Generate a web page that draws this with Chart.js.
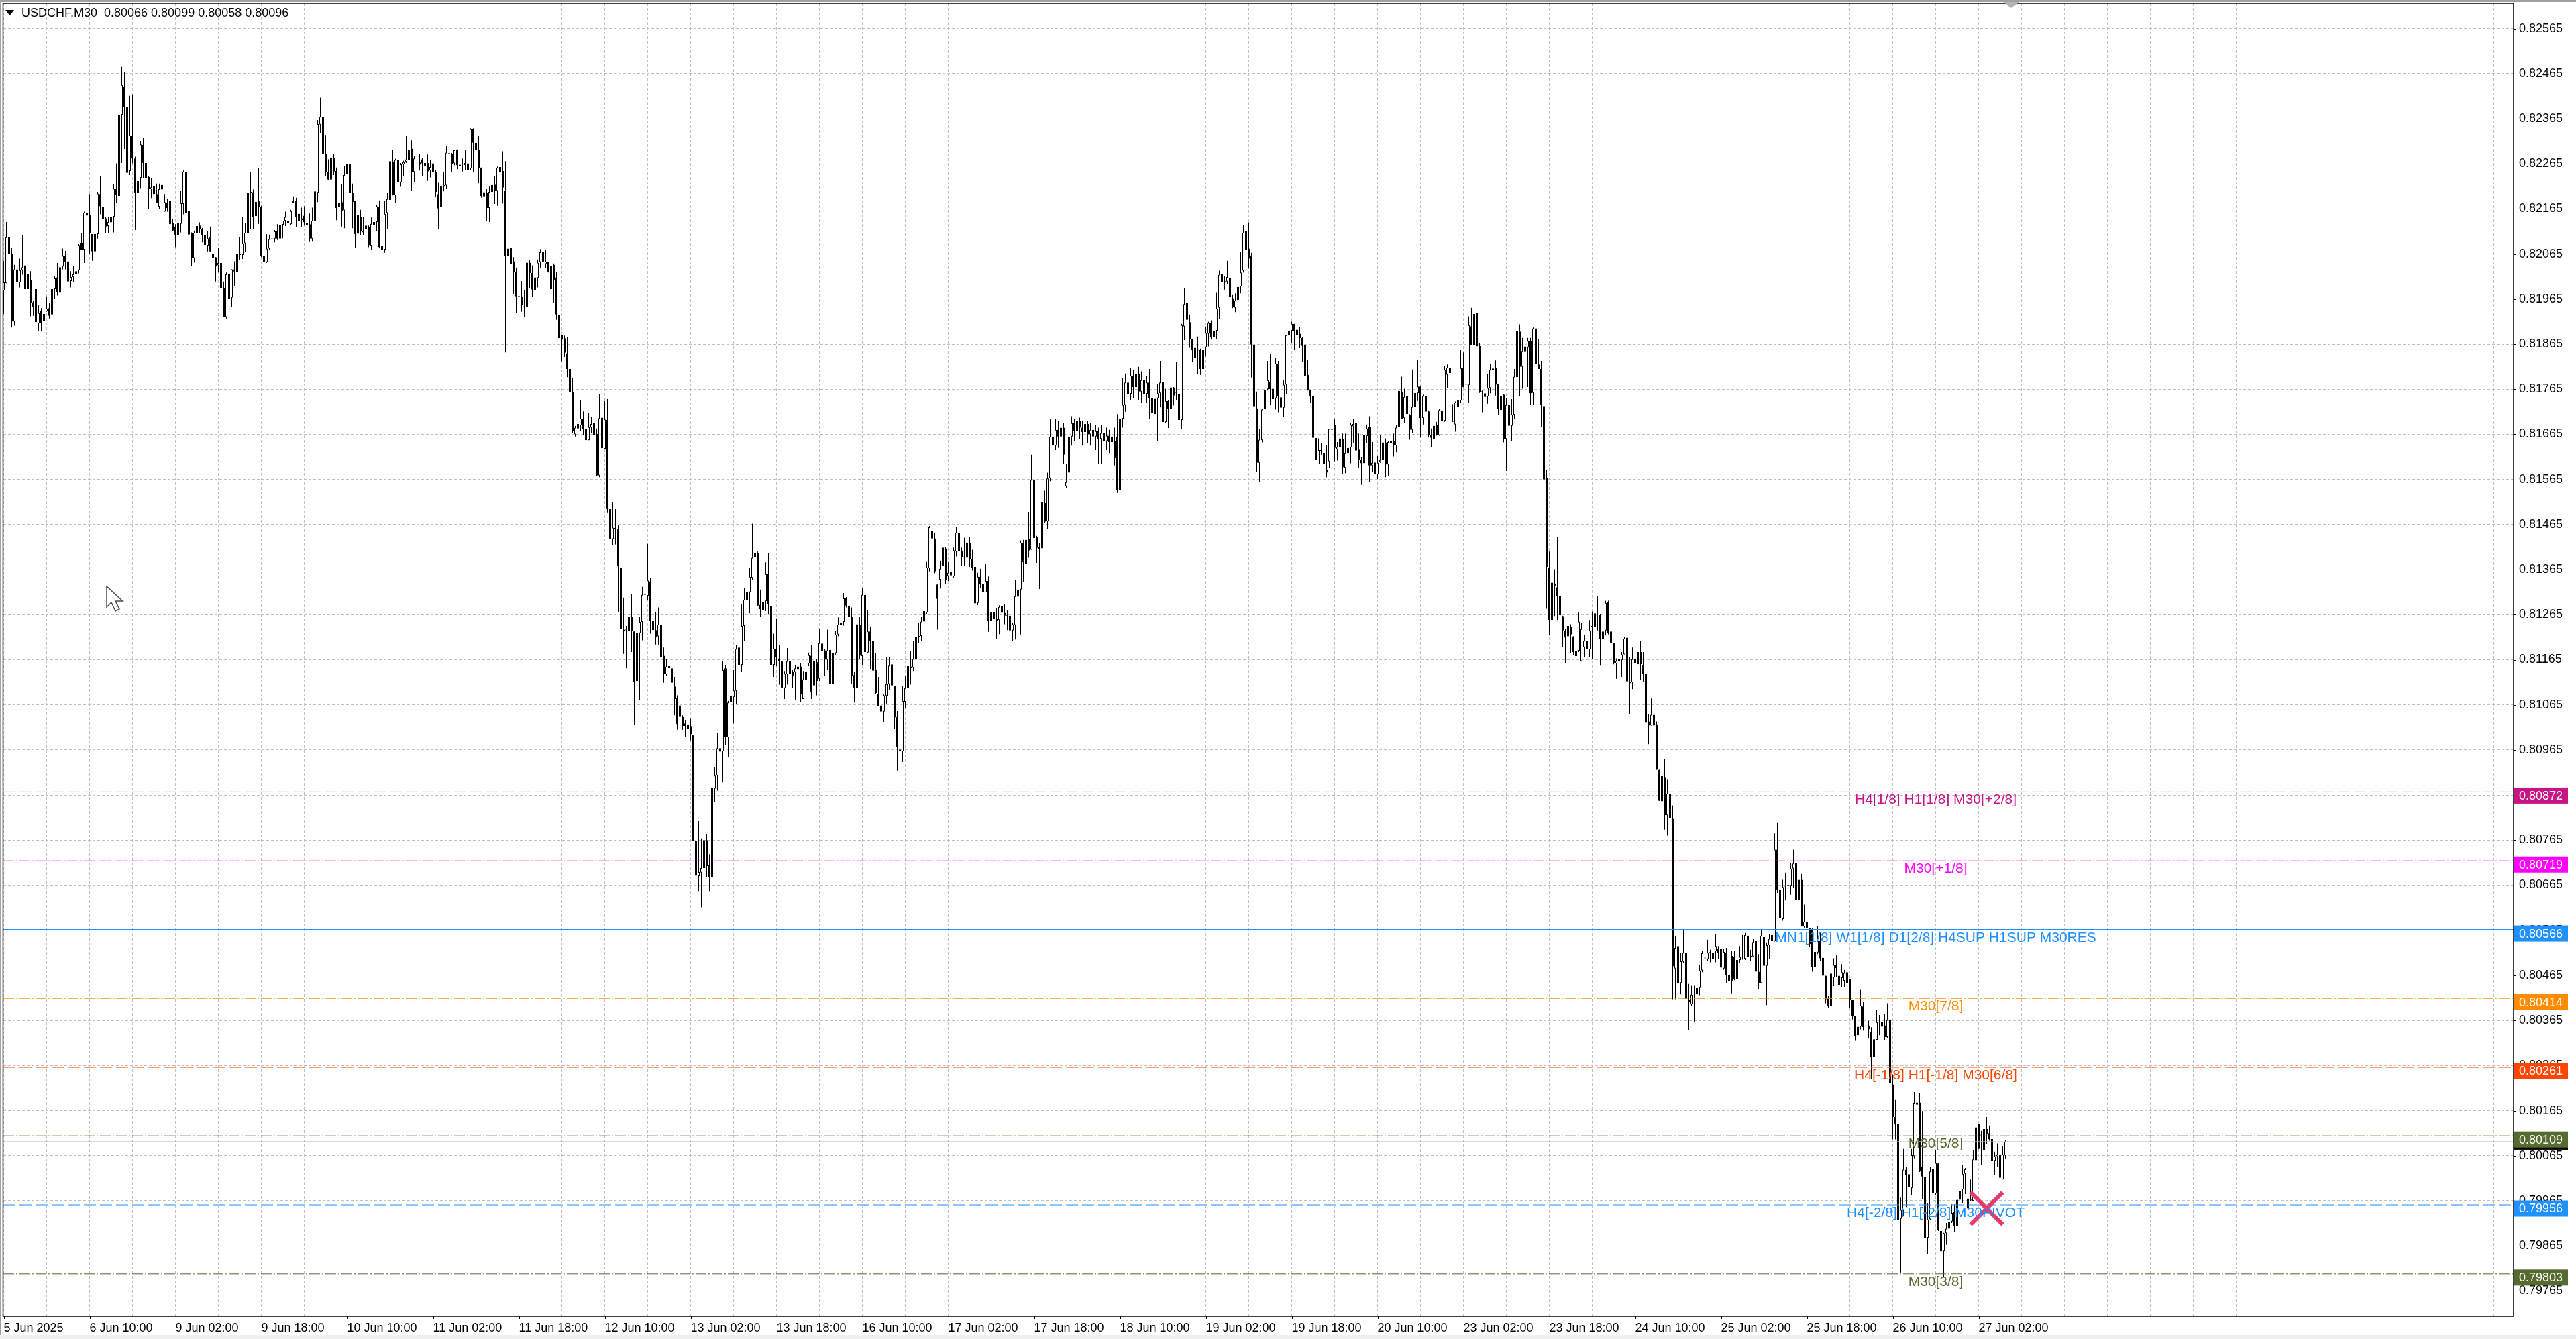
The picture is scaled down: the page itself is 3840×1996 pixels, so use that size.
<!DOCTYPE html>
<html lang="en">
<head>
<meta charset="UTF-8">
<title>USDCHF,M30</title>
<script src="https://cdn.jsdelivr.net/npm/chart.js"></script>
<style>
  html, body { margin: 0; padding: 0; background: #fff; }
  canvas { display: block; }
</style>
</head>
<body>
<canvas id="chart" width="3840" height="1996"></canvas>
<script>
// prices are kept in 1/100000 units, one entry per M30 bar
const opens = [
81984,82000,82102,82065,81915,82031,82002,82029,82040,81987,
82008,81958,81987,81911,81940,81917,81938,81945,81931,81987,
82013,81979,82037,82061,82049,82005,82014,82020,82029,82090,
82075,82157,82151,82109,82071,82109,82198,82170,82144,82127,
82135,82148,82209,82194,82374,82437,82392,82249,82328,82277,
82201,82234,82307,82267,82236,82209,82215,82198,82170,82208,
82159,82179,82183,82133,82126,82106,82132,82176,82248,82160,
82111,82056,82111,82128,82120,82106,82084,82102,82066,82058,
82040,82045,81989,81925,82020,81968,82031,82025,82065,82063,
82089,82112,82203,82202,82149,82183,82170,82060,82047,82077,
82098,82099,82117,82099,82130,82139,82138,82131,82183,82183,
82154,82140,82150,82134,82131,82099,82138,82201,82352,82369,
82288,82246,82230,82279,82249,82170,82180,82162,82242,82265,
82200,82183,82110,82148,82113,82119,82124,82084,82130,82136,
82169,82083,82075,82156,82185,82270,82195,82273,82224,82264,
82270,82273,82299,82247,82270,82268,82275,82267,82267,82250,
82266,82246,82198,82169,82214,82217,82289,82287,82266,82295,
82263,82264,82262,82266,82255,82342,82312,82296,82257,82193,
82200,82167,82203,82219,82205,82258,82249,82205,82060,82079,
82049,82025,81971,81971,81949,81947,82046,82023,81985,82012,
82047,82069,82043,82047,81987,82041,82013,81931,81886,81878,
81845,81810,81760,81665,81678,81685,81700,81677,81652,81680,
81690,81666,81574,81702,81633,81697,81499,81433,81456,81456,
81370,81232,81231,81229,81260,81228,81118,81224,81249,81309,
81307,81339,81252,81231,81217,81243,81174,81133,81151,81146,
81106,81080,81064,81038,81024,81021,81018,80998,80763,80685,
80693,80703,80765,80710,80683,80879,80908,80969,80962,81146,
80993,81072,81082,81096,81192,81154,81240,81298,81315,81347,
81393,81402,81287,81276,81295,81355,81284,81154,81188,81168,
81162,81102,81133,81162,81138,81138,81150,81150,81078,81120,
81157,81174,81108,81160,81123,81201,81186,81165,81187,81112,
81180,81221,81243,81249,81301,81285,81260,81131,81103,81243,
81173,81309,81181,81228,81207,81142,81090,81064,81050,81085,
81111,81155,81107,81038,80966,80962,81072,81102,81150,81147,
81166,81215,81218,81250,81270,81368,81451,81434,81332,81343,
81373,81412,81351,81360,81350,81405,81446,81406,81394,81391,
81425,81388,81371,81291,81349,81334,81315,81340,81251,81270,
81257,81253,81284,81269,81263,81263,81230,81242,81305,81321,
81424,81377,81433,81409,81565,81438,81415,81412,81513,81472,
81568,81660,81640,81675,81660,81680,81550,81580,81660,81690,
81672,81695,81680,81670,81688,81665,81675,81660,81672,81655,
81668,81650,81662,81648,81650,81660,81542,81700,81730,81780,
81755,81795,81770,81800,81760,81785,81755,81780,81745,81710,
81745,81756,81781,81692,81739,81721,81769,81756,81754,81697,
81904,81957,81914,81876,81834,81854,81852,81810,81858,81888,
81912,81880,81895,81946,82020,82004,82004,82012,81967,81946,
81963,81993,82028,82115,82077,82060,81863,81723,81602,81652,
81721,81765,81782,81766,81745,81821,81747,81724,81775,81885,
81895,81910,81897,81888,81879,81864,81797,81763,81751,81657,
81599,81630,81624,81587,81605,81675,81685,81632,81636,81654,
81591,81623,81636,81683,81691,81631,81608,81601,81661,81682,
81596,81603,81576,81604,81608,81647,81598,81646,81650,81640,
81681,81760,81701,81749,81709,81675,81726,81756,81771,81701,
81751,81716,81664,81655,81686,81663,81718,81695,81797,81813,
81695,81687,81725,81740,81813,81775,81774,81905,81862,81934,
81861,81760,81756,81749,81768,81808,81813,81777,81719,81753,
81655,81730,81684,81709,81792,81893,81815,81849,81858,81872,
81757,81900,81820,81810,81728,81568,81370,81253,81334,81326,
81307,81262,81230,81217,81238,81217,81173,81185,81162,81193,
81207,81188,81237,81238,81265,81264,81211,81230,81294,81228,
81202,81157,81161,81164,81177,81214,81117,81115,81166,81155,
81182,81153,81134,81028,81019,81043,81020,80921,80851,80905,
80820,80868,80812,80480,80530,80448,80495,80515,80411,80401,
80423,80423,80437,80476,80503,80501,80516,80515,80518,80523,
80523,80480,80515,80466,80508,80506,80457,80499,80505,80502,
80553,80508,80507,80541,80473,80448,80550,80486,80532,80541,
80541,80744,80655,80590,80662,80664,80664,80702,80715,80631,
80677,80573,80584,80570,80567,80483,80516,80541,80504,80464,
80414,80398,80460,80488,80464,80459,80453,80472,80457,80411,
80374,80332,80351,80396,80352,80353,80340,80285,80322,80361,
80361,80354,80328,80367,80223,80151,80135,79925,79945,80034,
80024,79993,80064,80178,80183,80041,80019,79883,79924,80036,
79981,80048,79898,79853,79893,79903,79919,79940,79909,79967,
79990,80025,79948,79966,79965,80055,80136,80111,80077,80124,
80115,80102,80054,80064,80068,80012,80066
];
const closes = [
82002,82102,82066,81917,82031,82002,82029,82036,81987,82020,
81957,81947,81914,81934,81912,81932,81944,81928,81987,82011,
81981,82036,82061,82048,82004,82014,82020,82027,82085,82075,
82157,82150,82111,82071,82109,82199,82171,82143,82126,82136,
82148,82210,82197,82373,82440,82390,82245,82328,82277,82201,
82227,82308,82267,82234,82209,82213,82198,82179,82209,82218,
82180,82167,82131,82117,82106,82133,82178,82248,82156,82108,
82056,82112,82127,82120,82106,82085,82100,82071,82056,82038,
82045,81989,81926,82020,81966,82031,82026,82066,82063,82089,
82112,82200,82200,82147,82181,82170,82061,82047,82077,82098,
82099,82115,82099,82130,82139,82147,82133,82160,82179,82147,
82138,82144,82135,82129,82099,82139,82204,82353,82369,82287,
82247,82230,82279,82248,82167,82179,82160,82240,82264,82201,
82180,82109,82151,82115,82116,82128,82085,82132,82136,82171,
82080,82075,82154,82187,82271,82197,82274,82224,82264,82269,
82275,82297,82246,82277,82268,82263,82266,82261,82248,82258,
82246,82203,82166,82215,82218,82290,82288,82265,82295,82262,
82261,82264,82267,82252,82342,82312,82295,82255,82194,82202,
82167,82203,82218,82205,82257,82247,82212,82061,82077,82042,
82024,81971,81971,81951,81947,82046,82023,81986,82013,82046,
82069,82048,82048,82025,82038,82006,81931,81878,81875,81846,
81810,81758,81672,81680,81688,81700,81676,81652,81681,81688,
81664,81574,81701,81634,81698,81499,81433,81458,81456,81373,
81233,81229,81231,81260,81229,81116,81225,81249,81309,81309,
81341,81252,81231,81216,81243,81171,81134,81150,81146,81114,
81078,81022,81038,81018,81018,81011,81000,80763,80686,80694,
80703,80765,80707,80682,80881,80908,80969,80961,81142,80994,
81070,81084,81097,81189,81154,81240,81298,81315,81349,81391,
81402,81285,81277,81293,81355,81288,81154,81190,81170,81162,
81102,81134,81162,81134,81130,81146,81144,81088,81122,81138,
81175,81094,81162,81118,81202,81184,81166,81186,81112,81180,
81221,81243,81248,81301,81285,81261,81130,81102,81244,81174,
81309,81182,81228,81206,81141,81091,81063,81050,81086,81111,
81152,81108,81037,80971,80962,81074,81102,81151,81146,81167,
81215,81218,81250,81273,81370,81459,81434,81361,81300,81367,
81414,81343,81358,81352,81408,81447,81405,81392,81392,81425,
81388,81368,81290,81349,81332,81315,81340,81251,81270,81256,
81252,81282,81269,81263,81263,81230,81244,81306,81321,81425,
81381,81431,81407,81564,81435,81413,81410,81514,81471,81567,
81660,81640,81675,81660,81680,81620,81559,81660,81690,81672,
81695,81680,81670,81688,81665,81675,81660,81672,81655,81668,
81650,81662,81648,81660,81612,81541,81700,81730,81780,81755,
81795,81770,81800,81760,81785,81755,81780,81745,81712,81744,
81756,81780,81692,81739,81721,81769,81751,81756,81697,81907,
81954,81919,81876,81852,81857,81851,81810,81852,81890,81912,
81881,81894,81944,82019,82003,82004,82014,81969,81947,81962,
81992,82024,82112,82074,82055,81864,81727,81602,81653,81720,
81764,81785,81765,81743,81822,81749,81724,81775,81885,81894,
81910,81895,81886,81878,81861,81795,81762,81750,81657,81608,
81630,81627,81599,81580,81677,81675,81635,81637,81656,81592,
81623,81635,81686,81688,81629,81608,81601,81663,81678,81596,
81602,81576,81602,81608,81647,81598,81648,81651,81640,81680,
81761,81700,81748,81710,81675,81726,81757,81771,81701,81750,
81715,81664,81657,81684,81663,81719,81695,81808,81813,81801,
81693,81736,81740,81812,81770,81775,81907,81863,81932,81860,
81759,81760,81748,81768,81808,81811,81775,81721,81751,81655,
81730,81684,81709,81793,81894,81815,81850,81860,81872,81756,
81900,81822,81810,81730,81565,81371,81253,81336,81328,81306,
81264,81230,81214,81240,81221,81182,81185,81250,81233,81207,
81188,81230,81240,81268,81265,81211,81228,81291,81224,81203,
81157,81162,81166,81177,81212,81117,81113,81166,81157,81182,
81155,81134,81025,81019,81043,81019,80921,80852,80907,80820,
80868,80813,80485,80526,80448,80496,80515,80413,80405,80422,
80423,80437,80476,80514,80503,80515,80516,80501,80530,80515,
80482,80517,80466,80453,80453,80457,80499,80506,80505,80554,
80506,80506,80539,80473,80448,80553,80486,80532,80546,80554,
80744,80654,80592,80661,80662,80664,80702,80713,80631,80677,
80575,80584,80570,80535,80483,80517,80541,80503,80464,80412,
80396,80469,80488,80481,80444,80472,80470,80448,80410,80375,
80330,80351,80398,80350,80352,80345,80285,80323,80361,80361,
80351,80328,80366,80225,80151,80135,79922,79945,80034,80022,
79995,80066,80182,80183,80030,80019,79883,79924,80030,79981,
80049,79901,79853,79893,79903,79919,79938,79909,79967,79987,
80025,80035,79970,79966,80057,80128,80080,80110,80124,80112,
80101,80054,80064,80068,80016,80068,80096
];
const highs = [
82050,82136,82142,82079,82041,82093,82055,82107,82087,82072,
82027,81962,82029,81951,81945,81944,81971,81957,81990,82016,
82045,82046,82077,82072,82051,82027,82039,82050,82087,82112,
82159,82194,82198,82109,82123,82203,82238,82170,82148,82147,
82153,82220,82266,82413,82480,82469,82416,82416,82419,82281,
82227,82316,82323,82302,82238,82234,82215,82221,82221,82230,
82198,82187,82185,82142,82131,82133,82206,82250,82248,82175,
82113,82117,82134,82135,82123,82120,82116,82126,82094,82058,
82079,82055,82004,82024,82033,82031,82049,82081,82102,82148,
82134,82232,82246,82208,82200,82256,82172,82091,82109,82108,
82140,82118,82131,82131,82139,82159,82146,82163,82193,82190,
82167,82168,82171,82147,82155,82168,82225,82362,82412,82375,
82329,82275,82284,82287,82257,82228,82220,82261,82363,82278,
82221,82183,82162,82163,82148,82136,82128,82146,82193,82173,
82184,82132,82183,82200,82296,82295,82276,82276,82267,82272,
82328,82309,82317,82282,82289,82287,82278,82275,82286,82274,
82289,82252,82223,82219,82246,82304,82319,82289,82296,82297,
82277,82277,82295,82277,82344,82344,82341,82327,82257,82204,
82209,82215,82228,82238,82259,82288,82293,82271,82084,82094,
82058,82035,82020,82005,81985,82046,82052,82040,82019,82053,
82076,82073,82074,82048,82045,82044,82025,81941,81886,81884,
81880,81851,81790,81684,81774,81740,81716,81689,81712,81704,
81712,81678,81755,81724,81739,81743,81532,81515,81499,81464,
81414,81303,81240,81307,81311,81228,81259,81261,81327,81335,
81422,81347,81292,81271,81281,81245,81192,81167,81166,81155,
81127,81086,81066,81042,81032,81030,81034,80998,80813,80807,
80769,80791,80779,80734,80883,80926,81002,81006,81162,81154,
81074,81120,81142,81197,81241,81289,81325,81343,81369,81467,
81480,81405,81321,81317,81381,81401,81304,81223,81257,81198,
81162,81140,81191,81213,81143,81154,81175,81158,81140,81143,
81181,81198,81228,81166,81233,81205,81188,81232,81202,81186,
81229,81259,81275,81313,81304,81285,81281,81138,81257,81260,
81325,81341,81275,81239,81237,81179,81127,81075,81088,81171,
81171,81192,81107,81051,80984,81107,81130,81171,81185,81207,
81232,81246,81261,81276,81382,81462,81456,81447,81332,81385,
81419,81415,81382,81395,81414,81460,81446,81414,81436,81443,
81437,81409,81371,81358,81367,81356,81377,81350,81320,81366,
81280,81286,81318,81289,81276,81269,81247,81342,81339,81430,
81431,81475,81493,81620,81575,81440,81423,81534,81540,81580,
81698,81680,81700,81695,81700,81690,81600,81685,81705,81700,
81710,81702,81695,81700,81695,81690,81688,81685,81680,81685,
81682,81680,81675,81678,81680,81710,81715,81790,81800,81815,
81812,81808,81818,81815,81805,81800,81795,81810,81790,81772,
81777,81828,81796,81766,81740,81777,81770,81826,81786,81910,
81990,81990,81931,81877,81908,81882,81855,81884,81904,81915,
81918,81915,81979,82028,82023,82017,82050,82013,81974,81978,
82003,82069,82129,82152,82135,82068,81940,81760,81676,81721,
81772,81828,81843,81810,81834,81828,81757,81786,81886,81943,
81915,81910,81918,81903,81880,81866,81830,81763,81751,81657,
81656,81646,81624,81642,81677,81705,81699,81648,81667,81667,
81667,81650,81691,81699,81705,81667,81615,81673,81687,81705,
81648,81619,81617,81664,81659,81656,81651,81672,81667,81685,
81766,81793,81766,81749,81710,81809,81830,81830,81772,81753,
81759,81718,81678,81689,81693,81721,81733,81817,81820,81834,
81732,81738,81785,81852,81847,81788,81927,81946,81945,81937,
81868,81762,81796,81799,81822,81833,81829,81777,81756,81753,
81746,81735,81743,81810,81913,81909,81879,81903,81879,81879,
81902,81938,81877,81828,81751,81586,81405,81341,81366,81437,
81347,81262,81233,81265,81244,81217,81214,81270,81246,81220,
81246,81253,81272,81275,81306,81267,81237,81296,81296,81228,
81202,81168,81192,81182,81216,81216,81171,81192,81198,81256,
81206,81182,81139,81044,81079,81072,81028,80921,80910,80945,
80900,80945,80842,80552,80544,80515,80567,80522,80446,80442,
80442,80439,80488,80519,80538,80544,80522,80528,80557,80530,
80527,80523,80526,80503,80519,80519,80501,80530,80554,80559,
80559,80522,80546,80541,80512,80565,80580,80538,80557,80584,
80780,80803,80655,80677,80693,80691,80715,80744,80745,80707,
80690,80622,80628,80570,80570,80561,80575,80561,80512,80464,
80419,80475,80503,80511,80467,80490,80477,80473,80457,80411,
80375,80367,80433,80406,80373,80364,80350,80332,80388,80377,
80411,80380,80403,80370,80245,80190,80174,79972,80080,80041,
80061,80080,80206,80212,80203,80164,80040,79960,80041,80061,
80077,80048,79898,79894,79916,79932,79957,79957,80006,79996,
80045,80038,79980,80012,80077,80136,80136,80120,80141,80151,
80132,80152,80074,80092,80079,80086,80099
];
const lows = [
81932,82000,82044,81902,81906,81997,81991,82019,81937,81987,
81927,81928,81891,81894,81894,81910,81937,81922,81920,81966,
81973,81973,82031,82031,82002,81991,82002,82017,82022,82075,
82045,82106,82066,82050,82069,82099,82153,82118,82111,82112,
82114,82113,82179,82106,82267,82298,82217,82240,82266,82118,
82171,82211,82234,82217,82165,82189,82158,82178,82165,82190,
82159,82159,82100,82116,82080,82099,82113,82153,82131,82089,
82039,82046,82086,82111,82091,82078,82071,82071,82036,82004,
82024,81958,81926,81922,81950,81948,81994,82022,82051,82054,
82069,82106,82121,82121,82121,82132,82058,82039,82045,82075,
82097,82091,82096,82094,82100,82127,82126,82130,82178,82125,
82131,82126,82128,82116,82093,82094,82107,82180,82334,82276,
82237,82229,82218,82240,82140,82102,82126,82122,82205,82188,
82122,82079,82089,82106,82106,82094,82080,82075,82086,82115,
82079,82036,82068,82121,82182,82195,82178,82218,82214,82238,
82267,82241,82205,82225,82264,82250,82237,82240,82227,82235,
82220,82191,82121,82140,82204,82210,82276,82246,82262,82253,
82248,82248,82251,82240,82251,82246,82287,82222,82190,82137,
82138,82136,82176,82176,82172,82218,82177,81847,81970,81987,
81976,81935,81944,81937,81926,81933,81989,81970,81933,81991,
82034,82041,82034,82024,81956,81956,81919,81857,81827,81837,
81792,81717,81668,81660,81664,81672,81664,81638,81652,81668,
81653,81572,81570,81622,81633,81492,81411,81419,81421,81271,
81217,81178,81146,81196,81182,81021,81060,81076,81208,81253,
81297,81223,81175,81199,81197,81154,81114,81130,81118,81102,
81042,81010,81010,81010,80994,81006,80986,80763,80556,80652,
80616,80646,80683,80652,80679,80849,80875,80895,80893,80976,
80950,81042,81024,81066,81110,81138,81206,81268,81268,81343,
81382,81284,81260,81224,81273,81265,81132,81127,81151,81110,
81096,81078,81110,81112,81102,81076,81138,81072,81078,81076,
81151,81078,81108,81086,81118,81162,81130,81142,81084,81083,
81175,81217,81223,81241,81281,81252,81112,81070,81102,81166,
81154,81174,81180,81145,81136,81089,81063,81005,81026,81068,
81098,81099,81012,80919,80884,80938,81058,81096,81110,81140,
81157,81203,81207,81228,81266,81361,81409,81357,81232,81323,
81352,81333,81340,81348,81347,81394,81380,81374,81373,81384,
81371,81363,81286,81286,81325,81314,81315,81227,81244,81201,
81212,81222,81249,81244,81231,81208,81206,81210,81268,81221,
81337,81375,81391,81409,81417,81380,81322,81387,81468,81455,
81561,81615,81630,81635,81645,81599,81545,81570,81640,81650,
81660,81655,81640,81650,81645,81640,81635,81630,81600,81600,
81625,81630,81622,81628,81596,81535,81536,81680,81715,81735,
81740,81745,81752,81740,81735,81730,81735,81700,81680,81709,
81651,81725,81692,81690,81679,81703,81729,81741,81562,81677,
81874,81910,81857,81826,81832,81798,81797,81809,81838,81860,
81875,81871,81876,81921,81967,81986,81999,81954,81945,81936,
81962,81978,82024,82047,82033,81791,81726,81582,81559,81647,
81688,81762,81731,81730,81720,81714,81703,81703,81754,81871,
81868,81852,81884,81856,81826,81775,81762,81735,81616,81570,
81599,81620,81569,81570,81590,81653,81605,81607,81588,81578,
81579,81591,81601,81646,81592,81590,81553,81579,81646,81559,
81582,81518,81566,81602,81608,81570,81573,81637,81616,81625,
81674,81699,81690,81631,81653,81668,81718,81739,81658,81687,
81686,81658,81636,81623,81662,81662,81693,81693,81767,81794,
81693,81671,81659,81735,81769,81730,81734,81863,81833,81845,
81757,81714,81735,81733,81756,81777,81751,81709,81666,81647,
81584,81615,81650,81700,81788,81749,81766,81815,81770,81730,
81730,81799,81810,81681,81494,81278,81219,81224,81262,81253,
81240,81193,81157,81201,81179,81175,81139,81182,81161,81171,
81166,81171,81166,81189,81230,81152,81155,81219,81221,81185,
81155,81123,81150,81127,81177,81117,81044,81100,81129,81129,
81120,81115,81015,80978,81019,81003,80921,80852,80849,80788,
80775,80804,80412,80412,80395,80423,80492,80395,80343,80397,
80362,80408,80421,80472,80501,80496,80494,80455,80494,80501,
80480,80477,80448,80445,80425,80454,80444,80493,80500,80499,
80506,80496,80507,80449,80435,80448,80467,80399,80502,80508,
80540,80648,80590,80586,80631,80638,80644,80660,80625,80606,
80573,80571,80551,80528,80473,80483,80512,80496,80464,80403,
80393,80396,80441,80461,80419,80438,80438,80436,80393,80367,
80320,80320,80345,80342,80345,80325,80235,80283,80322,80332,
80345,80322,80325,80215,80101,80101,79867,79806,79932,79951,
79977,79977,80059,80112,80029,79968,79875,79846,79922,79945,
79977,79898,79851,79796,79867,79883,79916,79896,79909,79951,
79960,79980,79946,79964,79964,80054,80079,80044,80074,80090,
80098,80032,80022,80040,80001,80012,80058
];

const priceTicks = [82565,82465,82365,82265,82165,82065,81965,81865,81765,81665,81565,81465,81365,81265,81165,81065,80965,80865,80765,80665,80565,80465,80365,80265,80165,80065,79965,79865,79765];
const timeLabels = ['5 Jun 2025','6 Jun 10:00','9 Jun 02:00','9 Jun 18:00','10 Jun 10:00','11 Jun 02:00','11 Jun 18:00','12 Jun 10:00','13 Jun 02:00','13 Jun 18:00','16 Jun 10:00','17 Jun 02:00','17 Jun 18:00','18 Jun 10:00','19 Jun 02:00','19 Jun 18:00','20 Jun 10:00','23 Jun 02:00','23 Jun 18:00','24 Jun 10:00','25 Jun 02:00','25 Jun 18:00','26 Jun 10:00','27 Jun 02:00'];

const levelPrices = [80872,80719,80566,80414,80261,80109,79956,79803];
const levelColors = ['#C71585','#FF00FF','#1E90FF','#FF8C00','#FF4500','#556B2F','#1E90FF','#556B2F'];
const levelTexts = ['H4[1/8] H1[1/8] M30[+2/8]','M30[+1/8]','MN1[1/8] W1[1/8] D1[2/8] H4SUP H1SUP M30RES','M30[7/8]','H4[-1/8] H1[-1/8] M30[6/8]','M30[5/8]','H4[-2/8] H1[-2/8] M30PIVOT','M30[3/8]'];
const levelDash = [[18,6],[16,3,2,3],[],[16,3,2,3],[18,6],[16,3,2,3],[18,6],[16,3,2,3]];
const levelWidth = [1,1,2,1,1,1,1,1];
const bidPrice = 80096;
const crossBar = 739;
const crossPrice = 79948;
const titleText = 'USDCHF,M30  0.80066 0.80099 0.80058 0.80096';

const FONT = '"Liberation Sans", Arial, sans-serif';
const X_MIN = -0.125, X_MAX = 935.375;
const fmt = v => (v / 100000).toFixed(5);

// stop the tick labels from pushing the plot area inward
function noPadding(scale) {
  scale.paddingLeft = 0;
  scale.paddingRight = 0;
  scale.paddingTop = 0;
  scale.paddingBottom = 0;
}

const datasets = [];
datasets.push({
  type: 'bar', order: 5, grouped: false, barThickness: 1, inflateAmount: 0,
  backgroundColor: '#000',
  data: opens.map((o, i) => ({ x: i, y: [lows[i], highs[i]] }))
});
datasets.push({
  type: 'bar', order: 4, grouped: false, barThickness: 3, inflateAmount: 0, minBarLength: 1,
  backgroundColor: opens.map((o, i) => closes[i] >= opens[i] ? '#fff' : '#000'),
  borderColor: '#000', borderWidth: 1, borderSkipped: false,
  data: opens.map((o, i) => ({ x: i, y: [o, closes[i]] }))
});
datasets.push({
  type: 'line', order: 3, borderColor: '#C0C0C0', borderWidth: 1, pointRadius: 0,
  data: [{ x: X_MIN, y: bidPrice }, { x: X_MAX, y: bidPrice }]
});
levelPrices.forEach((p, i) => {
  datasets.push({
    type: 'line', order: 2, borderColor: levelColors[i], borderWidth: levelWidth[i],
    borderDash: levelDash[i], pointRadius: 0,
    data: [{ x: X_MIN, y: p }, { x: X_MAX, y: p }]
  });
});
datasets.push({
  type: 'line', order: 1, showLine: false, pointStyle: 'crossRot', pointRadius: 34,
  pointBorderWidth: 6, pointBorderColor: '#E63B68', pointBackgroundColor: '#E63B68',
  data: [{ x: crossBar, y: crossPrice }]
});

// terminal decorations, price boxes and level captions
const terminalPlugin = {
  id: 'terminal',
  beforeDraw(chart) {
    const c = chart.ctx;
    c.save();
    c.fillStyle = '#fff';
    c.fillRect(0, 0, 3840, 1996);
    c.fillStyle = '#A0A0A0';
    c.fillRect(0, 0, 3840, 3);
    c.fillRect(0, 0, 2, 1996);
    c.fillStyle = '#F0F0F0';
    c.fillRect(0, 1990, 3840, 6);
    c.restore();
  },
  afterDraw(chart) {
    const c = chart.ctx, a = chart.chartArea, sx = chart.scales.x, sy = chart.scales.y;
    c.save();

    // frame and tick marks
    c.strokeStyle = '#000';
    c.lineWidth = 1.5;
    c.strokeRect(a.left - 0.5, a.top, a.right - a.left + 0.5, a.bottom - a.top);
    c.lineWidth = 1;
    c.beginPath();
    priceTicks.forEach(p => {
      const y = Math.round(sy.getPixelForValue(p)) + 0.5;
      c.moveTo(a.right, y);
      c.lineTo(a.right + 4, y);
    });
    timeLabels.forEach((t, i) => {
      const x = Math.round(sx.getPixelForValue(i * 32)) + 0.5;
      c.moveTo(x, a.bottom);
      c.lineTo(x, a.bottom + 4);
    });
    c.stroke();

    // chart shift mark on the top edge
    c.fillStyle = '#B4B4B4';
    c.beginPath();
    c.moveTo(2986, 3);
    c.lineTo(3010, 3);
    c.lineTo(2998, 12);
    c.closePath();
    c.fill();

    // title
    c.fillStyle = '#000';
    c.beginPath();
    c.moveTo(8, 15);
    c.lineTo(21, 15);
    c.lineTo(14.5, 23);
    c.closePath();
    c.fill();
    c.font = '18px ' + FONT;
    c.textAlign = 'left';
    c.textBaseline = 'middle';
    c.fillText(titleText, 32, 20);

    // level captions
    c.font = '21px ' + FONT;
    c.textAlign = 'center';
    levelPrices.forEach((p, i) => {
      c.fillStyle = levelColors[i];
      c.fillText(levelTexts[i], sx.getPixelForValue(720), sy.getPixelForValue(p) + 12);
    });

    // price boxes on the axis
    c.fillStyle = '#000';
    c.fillRect(a.right + 1, sy.getPixelForValue(bidPrice) - 12, 80, 24);
    c.font = '18px ' + FONT;
    c.textAlign = 'left';
    levelPrices.forEach((p, i) => {
      const y = sy.getPixelForValue(p) + 5.5;
      c.fillStyle = levelColors[i];
      c.fillRect(a.right + 1, y - 12, 80, 24);
      c.fillStyle = '#fff';
      c.fillText(fmt(p), a.right + 8, y + 1);
    });

    // mouse pointer left on the chart
    const mx = 159, my = 874;
    c.fillStyle = '#fff';
    c.strokeStyle = '#505050';
    c.lineWidth = 1.5;
    c.beginPath();
    c.moveTo(mx, my);
    c.lineTo(mx, my + 31);
    c.lineTo(mx + 7, my + 24);
    c.lineTo(mx + 13, my + 37);
    c.lineTo(mx + 19, my + 34);
    c.lineTo(mx + 13, my + 22);
    c.lineTo(mx + 24, my + 22);
    c.closePath();
    c.fill();
    c.stroke();
    c.restore();
  }
};

new Chart(document.getElementById('chart'), {
  type: 'bar',
  data: { datasets },
  plugins: [terminalPlugin],
  options: {
    responsive: false,
    animation: false,
    devicePixelRatio: 1,
    layout: { autoPadding: false, padding: { left: 5, top: 5, right: 0, bottom: 0 } },
    plugins: { legend: { display: false }, tooltip: { enabled: false } },
    events: [],
    scales: {
      x: {
        type: 'linear', offset: false, min: X_MIN, max: X_MAX,
        afterBuildTicks(scale) {
          const t = [];
          for (let v = 0; v <= X_MAX; v += 16) t.push({ value: v });
          scale.ticks = t;
        },
        afterFit(scale) { scale.height = 34; noPadding(scale); },
        grid: { offset: false, color: '#C0C0C0', lineWidth: 1, drawTicks: false },
        border: { display: false, dash: [4, 3] },
        ticks: {
          autoSkip: false, maxRotation: 0, minRotation: 0, align: 'start', padding: 7,
          color: '#000', font: { family: FONT, size: 18 },
          callback: v => timeLabels[v / 32] || ''
        }
      },
      y: {
        position: 'right', min: 79709, max: 82621,
        afterBuildTicks(scale) { scale.ticks = priceTicks.map(v => ({ value: v })); },
        afterFit(scale) { scale.width = 93; noPadding(scale); },
        grid: { color: '#C0C0C0', lineWidth: 1, drawTicks: false },
        border: { display: false, dash: [4, 3] },
        ticks: {
          autoSkip: false, padding: 8,
          color: '#000', font: { family: FONT, size: 18 },
          callback: v => fmt(v)
        }
      }
    }
  }
});
</script>
</body>
</html>
